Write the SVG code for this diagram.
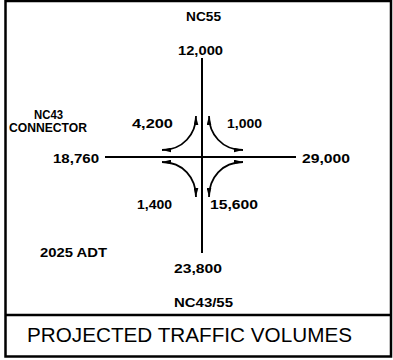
<svg xmlns="http://www.w3.org/2000/svg" width="393" height="360" viewBox="0 0 393 360">
<style>
.lbl{font-family:"Liberation Sans",Arial,sans-serif;font-weight:bold;font-size:13px;fill:#000;text-anchor:start}
.ttl{font-family:"Liberation Sans",Arial,sans-serif;font-size:20px;fill:#000}
.road{stroke:#000;stroke-width:2;fill:none}
.turn{stroke:#000;stroke-width:1.8;fill:none;marker-start:url(#ah);marker-end:url(#ah)}
.frame{stroke:#000;fill:none}
</style>
<defs>
<marker id="ah" markerUnits="userSpaceOnUse" markerWidth="9" markerHeight="5" viewBox="0 -2.5 9 5" refX="9" refY="0" orient="auto-start-reverse">
<path d="M0,-2.3 L9,0 L0,2.3 Z" fill="#000"/>
</marker>
</defs>
<rect width="393" height="360" fill="#fff"/>
<g id="frame">
<rect class="frame" x="5.5" y="1" width="385.5" height="355.5" stroke-width="2.5"/>
<line class="frame" x1="5.5" y1="315" x2="391" y2="315" stroke-width="2.5"/>
</g>
<g id="roads">
<line class="road" x1="202" y1="58" x2="202" y2="253"/>
<line class="road" x1="105" y1="157" x2="296" y2="157"/>
</g>
<g id="connectors">
<path class="turn" d="M196,116 C196,134 183,150 162,150"/>
<path class="turn" d="M209,116 C209,134 222,150 243,150"/>
<path class="turn" d="M162,162 C183,162 196,178 196,197"/>
<path class="turn" d="M243,162 C222,162 209,178 209,197"/>
</g>
<g id="n-nc55"><text class="lbl" x="186" y="21" font-size="11" textLength="35" lengthAdjust="spacingAndGlyphs">NC55</text></g>
<g id="n-12000"><text class="lbl" x="178" y="55" textLength="45" lengthAdjust="spacingAndGlyphs">12,000</text></g>
<g id="n-nc43conn">
<text class="lbl" x="34" y="118.5" font-size="10.5" textLength="29" lengthAdjust="spacingAndGlyphs">NC43</text>
<text class="lbl" x="9" y="132" font-size="12" textLength="78" lengthAdjust="spacingAndGlyphs">CONNECTOR</text>
</g>
<g id="n-4200"><text class="lbl" x="132" y="128" textLength="41" lengthAdjust="spacingAndGlyphs">4,200</text></g>
<g id="n-1000"><text class="lbl" x="227" y="128" textLength="35" lengthAdjust="spacingAndGlyphs">1,000</text></g>
<g id="n-18760"><text class="lbl" x="53" y="163" textLength="46" lengthAdjust="spacingAndGlyphs">18,760</text></g>
<g id="n-29000"><text class="lbl" x="302" y="163" textLength="48" lengthAdjust="spacingAndGlyphs">29,000</text></g>
<g id="n-1400"><text class="lbl" x="137" y="209" textLength="35" lengthAdjust="spacingAndGlyphs">1,400</text></g>
<g id="n-15600"><text class="lbl" x="210" y="209" textLength="48" lengthAdjust="spacingAndGlyphs">15,600</text></g>
<g id="n-2025adt"><text class="lbl" x="40" y="257" textLength="67" lengthAdjust="spacingAndGlyphs">2025 ADT</text></g>
<g id="n-23800"><text class="lbl" x="174" y="273" textLength="48" lengthAdjust="spacingAndGlyphs">23,800</text></g>
<g id="n-nc4355"><text class="lbl" x="174" y="307" textLength="59" lengthAdjust="spacingAndGlyphs">NC43/55</text></g>
<g id="n-title"><text class="ttl" x="27" y="342" textLength="325" lengthAdjust="spacingAndGlyphs">PROJECTED TRAFFIC VOLUMES</text></g>
</svg>
